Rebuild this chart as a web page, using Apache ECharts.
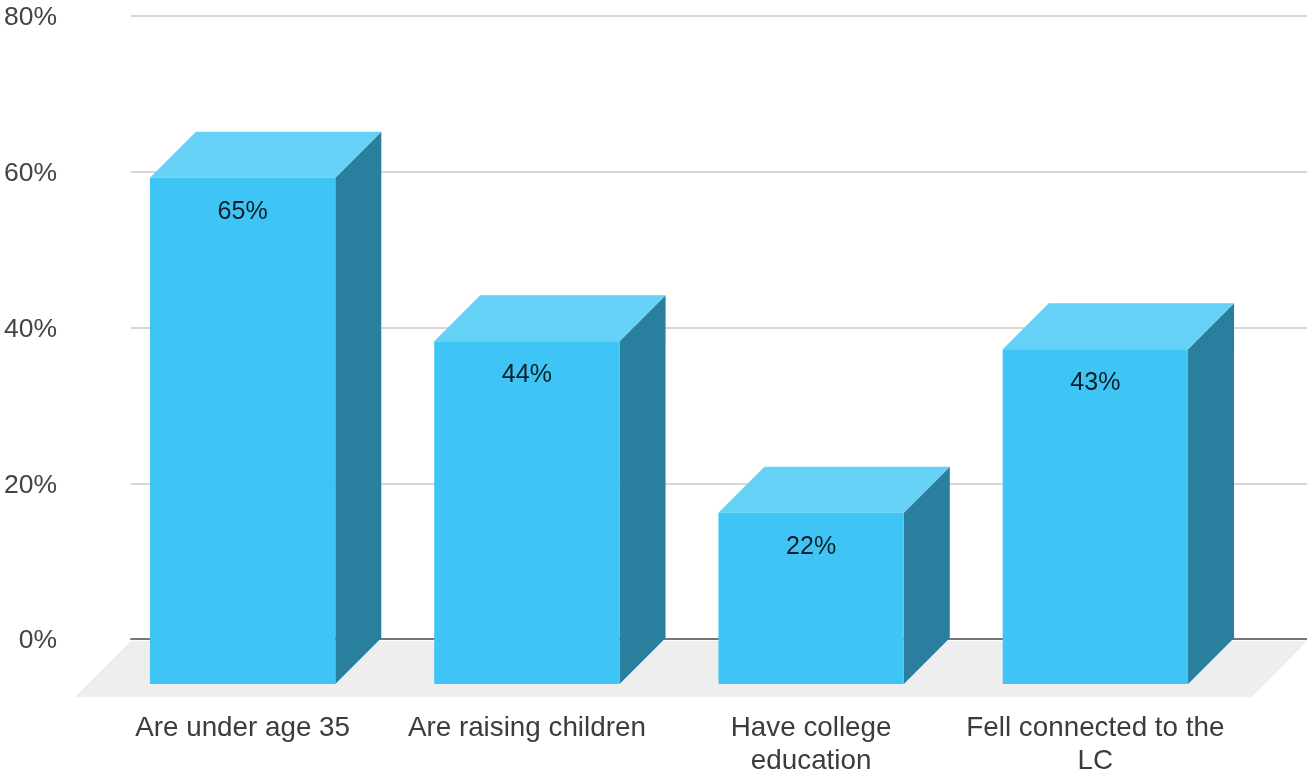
<!DOCTYPE html>
<html>
<head>
<meta charset="utf-8">
<title>Share of respondents</title>
<style>
  html, body { margin: 0; padding: 0; background: #fff; }
  #chart { width: 1307px; height: 773px; }
</style>
<script src="https://cdn.jsdelivr.net/npm/echarts@6/dist/echarts.min.js"></script>
</head>
<body>
<div id="chart"></div>
<script>
const categories = ['Are under age 35', 'Are raising children', 'Have college\neducation', 'Fell connected to the\nLC'];
const shares = [65, 44, 22, 43];
const tickValues = [0, 20, 40, 60, 80];

const FONT = '"Liberation Sans", Arial, sans-serif';
const DEPTH_X = 46;
const DEPTH_Y = 46;
const FRONT = '#3EC5F5';
const TOP = '#66D1F6';
const SIDE = '#2A7F9F';

// Bars are drawn on the front plane; the depth offset reaches back to the wall grid.
function renderBox(params, api) {
  const idx = api.value(0);
  const val = api.value(1);
  const top = api.coord([idx, val]);
  const base = api.coord([idx, 0]);
  const w = api.size([1, 0])[0] * 0.652;
  const l = top[0] - w / 2;
  const r = top[0] + w / 2;
  const t = top[1];
  const b = base[1];
  return {
    type: 'group',
    children: [
      { type: 'polygon', shape: { points: [[r, t], [r + DEPTH_X, t - DEPTH_Y], [r + DEPTH_X, b - DEPTH_Y], [r, b]] }, style: { fill: SIDE } },
      { type: 'polygon', shape: { points: [[l, t], [l + DEPTH_X, t - DEPTH_Y], [r + DEPTH_X, t - DEPTH_Y], [r, t]] }, style: { fill: TOP } },
      { type: 'rect', shape: { x: l, y: t, width: r - l, height: b - t }, style: { fill: FRONT } },
      {
        type: 'text',
        style: {
          x: top[0], y: t + 34, text: val + '%', align: 'center', verticalAlign: 'middle',
          fill: '#0d1f29', font: '25px ' + FONT
        }
      }
    ]
  };
}

// Grey floor running from the foot of the wall towards the viewer.
function renderFloor(params) {
  const c = params.coordSys;
  const y0 = c.y + c.height + 2;
  const y1 = y0 + 56;
  const x0 = c.x;
  const x1 = c.x + c.width;
  return {
    type: 'polygon',
    shape: { points: [[x0, y0], [x1, y0], [x1 - 55, y1], [x0 - 56, y1]] },
    style: { fill: '#EEEEEE' }
  };
}

const chart = echarts.init(document.getElementById('chart'), null, { renderer: 'canvas' });
chart.setOption({
  animation: false,
  backgroundColor: '#fff',
  grid: [
    { left: 131, right: 0, top: 16, bottom: 134, outerBoundsMode: 'none' },
    { left: 100.5, width: 1137, top: 61, height: 623, outerBoundsMode: 'none' }
  ],
  xAxis: [
    {
      gridIndex: 0, type: 'category', data: categories,
      axisTick: { show: false }, axisLabel: { show: false },
      axisLine: { lineStyle: { color: '#777777', width: 2 } }
    },
    {
      gridIndex: 1, type: 'category', data: categories,
      axisTick: { show: false }, axisLine: { show: false },
      axisLabel: {
        interval: 0, margin: 28, color: '#3c3c3c', fontFamily: FONT, fontSize: 27.8, lineHeight: 33
      }
    }
  ],
  yAxis: [
    {
      gridIndex: 0, type: 'value', min: tickValues[0], max: tickValues[tickValues.length - 1], interval: 20,
      axisLine: { show: false }, axisTick: { show: false },
      splitLine: { lineStyle: { color: '#D6D6D6', width: 2 } },
      axisLabel: {
        margin: 74, color: '#444444', fontFamily: FONT, fontSize: 26.5, formatter: '{value}%',
        verticalAlign: 'top', lineHeight: 4
      }
    },
    {
      gridIndex: 1, type: 'value', min: tickValues[0], max: tickValues[tickValues.length - 1], interval: 20,
      axisLine: { show: false }, axisTick: { show: false }, axisLabel: { show: false }, splitLine: { show: false }
    }
  ],
  series: [
    {
      type: 'custom', xAxisIndex: 0, yAxisIndex: 0, z: 1, silent: true,
      renderItem: renderFloor, data: [0]
    },
    {
      type: 'custom', xAxisIndex: 1, yAxisIndex: 1, z: 3,
      renderItem: renderBox,
      encode: { x: 0, y: 1 },
      data: shares.map((v, i) => [i, v])
    }
  ]
});
</script>
</body>
</html>
